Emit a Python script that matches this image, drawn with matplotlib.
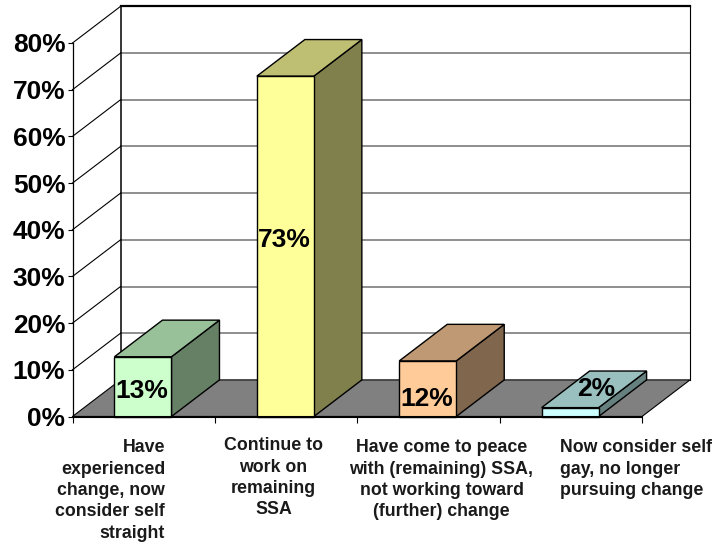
import matplotlib
matplotlib.use("Agg")
import matplotlib.pyplot as plt
from matplotlib.patches import Polygon

plt.rcParams['font.family'] = ['Liberation Sans', 'DejaVu Sans']

categories = ["Have\nexperienced\nchange, now\nconsider self\nstraight",
              "Continue to\nwork on\nremaining\nSSA",
              "Have come to peace\nwith (remaining) SSA,\nnot working toward\n(further) change",
              "Now consider self\ngay, no longer\npursuing change"]
values = [12.8, 72.9, 11.9, 1.9]
value_labels = ["13%", "73%", "12%", "2%"]
y_ticks = [0, 10, 20, 30, 40, 50, 60, 70, 80]
y_tick_labels = ["0%", "10%", "20%", "30%", "40%", "50%", "60%", "70%", "80%"]
front_colors = ["#CCFFCC", "#FFFF99", "#FFCC99", "#CCFFFF"]
top_colors = ["#99C199", "#BFBF73", "#BF9973", "#99BFBF"]
side_colors = ["#668066", "#80804D", "#80664D", "#668080"]

W, H = 715, 542
L, R, B, T = 72.5, 642.0, 416.5, 43.0
fig = plt.figure(figsize=(W / 100, H / 100), dpi=100, facecolor="white")
ax = fig.add_axes([L / W, 1 - B / H, (R - L) / W, (B - T) / H])
ax.set_xlim(0, len(categories))
ax.set_ylim(0, 80)
ax.patch.set_visible(False)

# depth of the 3D box in data units
DX = 48.0 / ((R - L) / 4)
DY = 36.6 / ((B - T) / 80)
YMAX = 80
XMAX = len(categories)


def poly(pts, fc="none", ec="black", lw=1.0, z=2):
    ax.add_patch(Polygon(pts, closed=True, facecolor=fc, edgecolor=ec, linewidth=lw,
                         zorder=z, clip_on=False, joinstyle="miter"))


# floor
poly([(0, 0), (XMAX, 0), (XMAX + DX, DY), (DX, DY)], fc="#808080", ec="black", lw=0.8, z=1)
# back wall gridlines
for v in y_ticks[1:-1]:
    ax.plot([DX, XMAX + DX], [v + DY, v + DY], color="#707070", lw=1.1, zorder=1, clip_on=False)
# side wall lines
for v in y_ticks[1:]:
    ax.plot([0, DX], [v, v + DY], color="black", lw=0.8, zorder=1.2, clip_on=False)
# back wall frame
ax.plot([DX, DX], [DY, YMAX + DY], color="black", lw=1.1, zorder=1.3, clip_on=False)
ax.plot([XMAX + DX, XMAX + DX], [DY, YMAX + DY], color="black", lw=0.8, zorder=1.3, clip_on=False)
ax.plot([DX, XMAX + DX], [YMAX + DY, YMAX + DY], color="black", lw=1.6, zorder=1.3, clip_on=False)

# bars
BAR_W = 57.0 / ((R - L) / 4)
for i, v in enumerate(values):
    x0 = i + 0.5 - BAR_W / 2 - 0.005
    x1 = x0 + BAR_W
    z = 3 + i * 0.1
    poly([(x1, 0), (x1 + DX, DY), (x1 + DX, v + DY), (x1, v)], fc=side_colors[i], lw=1.0, z=z)
    poly([(x0, v), (x1, v), (x1 + DX, v + DY), (x0 + DX, v + DY)], fc=top_colors[i], lw=1.0, z=z)
    poly([(x0, 0), (x1, 0), (x1, v), (x0, v)], fc=front_colors[i], lw=1.0, z=z)

# data labels
label_x = [0.49, 1.49, 2.49, 3.68]
label_y = [5.5, 37.8, 3.7, 5.9]
for x, y, s in zip(label_x, label_y, value_labels):
    ax.text(x, y, s, ha="center", va="center", fontsize=19, fontweight="bold", color="black", zorder=6)

# axes
for s in ("top", "right"):
    ax.spines[s].set_visible(False)
ax.spines["left"].set_linewidth(0.9)
ax.spines["bottom"].set_linewidth(1.5)
ax.spines["left"].set_zorder(7)
ax.spines["bottom"].set_zorder(7)
ax.set_yticks(y_ticks)
ax.set_yticklabels(y_tick_labels, fontsize=18.9, fontweight="bold")
ax.tick_params(axis="y", length=3.6, width=0.8, pad=1.5)
ax.set_xticks(range(len(categories) + 1))
ax.set_xticklabels([""] * (len(categories) + 1))
ax.tick_params(axis="x", length=4.3, width=0.8)

# category labels
px = lambda x: (x - L) / ((R - L) / 4)
py = lambda y: (B - y) / ((B - T) / 80)
cat_pos = [(165, 439.5, "right"), (273.5, 437.5, "center"), (441.5, 439.5, "center"), (560, 439.5, "left")]
for (x, y, ha), s in zip(cat_pos, categories):
    ax.text(px(x), py(y), s, ha=ha, va="top", multialignment=ha, fontsize=12.8,
            fontweight="bold", color="#1a1a1a", linespacing=1.33, clip_on=False)

fig.savefig("out.png", dpi=100, facecolor="white")
